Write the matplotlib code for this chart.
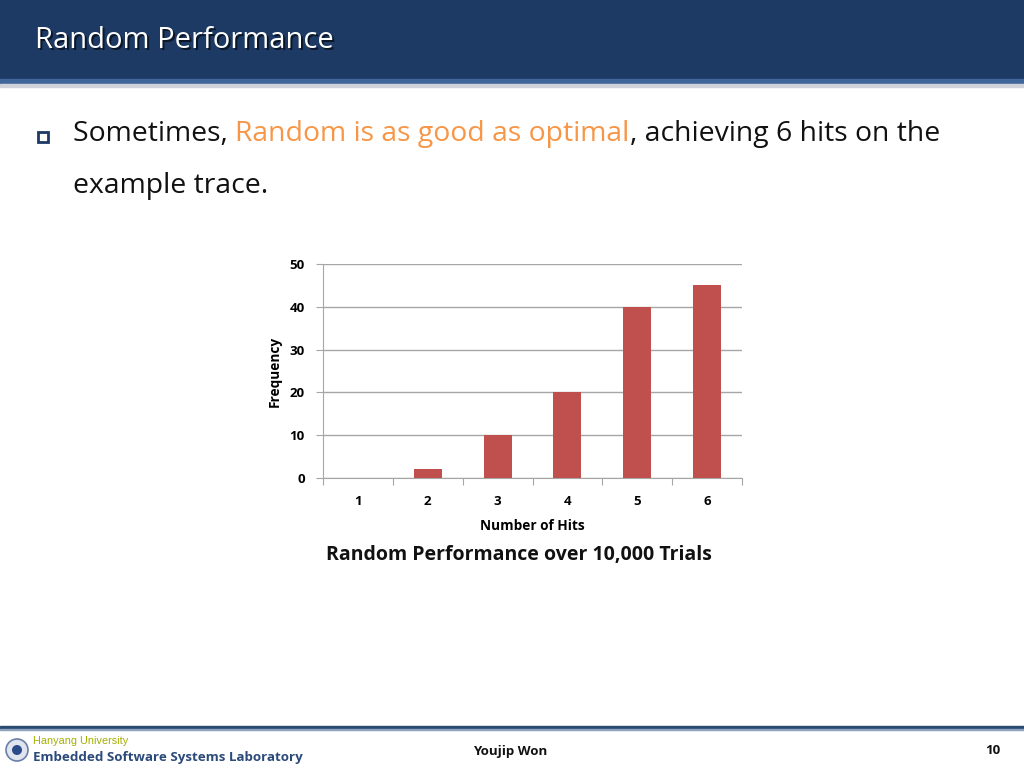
import matplotlib.pyplot as plt
from matplotlib.patches import Rectangle, Circle

# chart data
hits = ["1", "2", "3", "4", "5", "6"]
frequency = [0, 2, 10, 20, 40, 45]
y_ticks = [0, 10, 20, 30, 40, 50]

navy = "#1c3a64"
bar_color = "#c0504d"
grid_color = "#a6a6a6"

plt.rcParams['font.family'] = ['Open Sans', 'DejaVu Sans']

fig = plt.figure(figsize=(10.24, 7.68), dpi=100)

# slide background layer, coordinates in pixels (y down)
bg = fig.add_axes([0, 0, 1, 1])
bg.set_xlim(0, 1024)
bg.set_ylim(768, 0)
bg.axis("off")

# header band
bg.add_patch(Rectangle((0, 0), 1024, 79, color=navy, zorder=1))
bg.add_patch(Rectangle((0, 79), 1024, 5, color="#41679a", zorder=1))
bg.add_patch(Rectangle((0, 84), 1024, 3, color="#d0d4da", zorder=1))
bg.text(37, 43, "Random Performance", color="black", fontsize=21,
        va="center", ha="left", alpha=0.6, zorder=2)
bg.text(35, 41, "Random Performance", color="white", fontsize=21,
        va="center", ha="left", zorder=3)

# bullet text
bg.add_patch(Rectangle((38, 132), 10, 10, fill=False, edgecolor=navy,
                       linewidth=2, zorder=2))
line1 = bg.text(73, 134, "Sometimes, ", fontsize=20.4, va="center", ha="left",
                color="#111111")
fig.canvas.draw()
r = fig.canvas.get_renderer()
inv = bg.transData.inverted()
x_data = inv.transform((line1.get_window_extent(r).x1, 0))[0]
line2 = bg.text(x_data, 134, "Random is as good as optimal", fontsize=20.4,
                va="center", ha="left", color="#f79646")
x_data = inv.transform((line2.get_window_extent(r).x1, 0))[0]
bg.text(x_data, 134, ", achieving 6 hits on the", fontsize=20.4,
        va="center", ha="left", color="#111111")
bg.text(73, 186, "example trace.", fontsize=20.4, va="center", ha="left",
        color="#111111")

# chart title
bg.text(519, 555, "Random Performance over 10,000 Trials", fontsize=14,
        fontweight="bold", ha="center", va="center", color="#111111")

# footer
bg.add_patch(Rectangle((0, 726), 1024, 3, color="#2b4a70", zorder=1))
bg.add_patch(Rectangle((0, 729), 1024, 1, color="#8ea3bf", zorder=1))
bg.add_patch(Circle((17, 750), 11, facecolor="#dfe4ee", edgecolor="#6b7fa8",
                    linewidth=1.2, zorder=2))
bg.add_patch(Circle((17, 750), 5, facecolor="#2b4a8a", zorder=3))
bg.text(33, 741, "Hanyang University", fontsize=7.8, color="#a3b000",
        family=['Liberation Sans'], va="center", ha="left")
bg.text(33, 757, "Embedded Software Systems Laboratory", fontsize=9.6,
        fontweight="bold", color="#2b4a7a", va="center", ha="left")
bg.text(510, 751, "Youjip Won", fontsize=9.5, fontweight="bold",
        color="#111111", va="center", ha="center")
bg.text(993, 751, "10", fontsize=9.5, fontweight="bold", color="#111111",
        va="center", ha="center")

# bar chart
ax = fig.add_axes([323 / 1024, 1 - 478 / 768, 419 / 1024, 214 / 768])
x = list(range(len(hits)))
ax.bar(x, frequency, width=0.4, color=bar_color, zorder=3)
ax.set_xlim(-0.5, len(hits) - 0.5)
ax.set_ylim(0, 50)
ax.set_yticks(y_ticks)
ax.set_yticklabels([str(v) for v in y_ticks], fontsize=9.5, fontweight="bold")
ax.grid(axis="y", color=grid_color, linewidth=1, zorder=0)
ax.set_xticks([i - 0.5 for i in range(len(hits) + 1)])
ax.set_xticklabels([])
ax.set_xticks(x, minor=True)
ax.set_xticklabels(hits, minor=True, fontsize=9.5, fontweight="bold")
ax.tick_params(axis="x", which="major", length=5, color=grid_color)
ax.tick_params(axis="x", which="minor", length=0, pad=12)
ax.tick_params(axis="y", length=5, color=grid_color, pad=8)
for s in ["top", "right"]:
    ax.spines[s].set_visible(False)
for s in ["left", "bottom"]:
    ax.spines[s].set_color(grid_color)
ax.set_xlabel("Number of Hits", fontsize=9.8, fontweight="bold", labelpad=8)
ax.set_ylabel("Frequency", fontsize=9.8, fontweight="bold", labelpad=6)

fig.savefig("out.png", dpi=100)
